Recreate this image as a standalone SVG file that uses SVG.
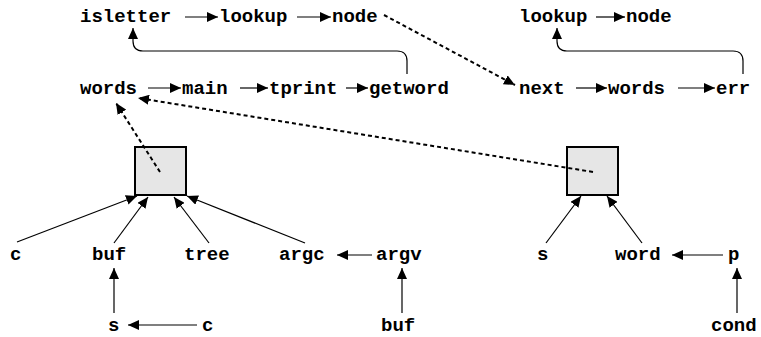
<svg xmlns="http://www.w3.org/2000/svg" width="761" height="337" viewBox="0 0 761 337">
<style>
text{font-family:"Liberation Mono","Courier New",monospace;font-weight:bold;font-size:19px;fill:#000}
.s{stroke:#000;stroke-width:1.2;fill:none}
.d{stroke:#000;stroke-width:2;fill:none;stroke-dasharray:4 3}
.box{fill:#e6e6e6;stroke:#000;stroke-width:2}
</style>
<defs>
<marker id="a" markerUnits="userSpaceOnUse" markerWidth="12" markerHeight="10" refX="11" refY="5" orient="auto"><path d="M0,0L11,5L0,10z" fill="#000"/></marker>
</defs>
<g id="box1"><rect class="box" x="135" y="147" width="51" height="48"/></g>
<g id="box2"><rect class="box" x="567" y="147" width="51" height="48"/></g>
<g id="isletter"><text x="80" y="22">isletter</text></g>
<g id="lookup1"><text x="219" y="22">lookup</text></g>
<g id="node1"><text x="332" y="22">node</text></g>
<g id="lookup2"><text x="519" y="22">lookup</text></g>
<g id="node2"><text x="626" y="22">node</text></g>
<g id="words1"><text x="80" y="94">words</text></g>
<g id="main"><text x="182" y="94">main</text></g>
<g id="tprint"><text x="269" y="94">tprint</text></g>
<g id="getword"><text x="369" y="94">getword</text></g>
<g id="next"><text x="519" y="94">next</text></g>
<g id="words2"><text x="608" y="94">words</text></g>
<g id="err"><text x="716" y="94">err</text></g>
<g id="c1"><text x="10" y="260">c</text></g>
<g id="buf1"><text x="92" y="260">buf</text></g>
<g id="tree"><text x="184" y="260">tree</text></g>
<g id="argc"><text x="279" y="260">argc</text></g>
<g id="argv"><text x="376" y="260">argv</text></g>
<g id="s1"><text x="537" y="260">s</text></g>
<g id="word"><text x="615" y="260">word</text></g>
<g id="p"><text x="728" y="260">p</text></g>
<g id="s2"><text x="108" y="331">s</text></g>
<g id="c2"><text x="202" y="331">c</text></g>
<g id="buf2"><text x="381" y="331">buf</text></g>
<g id="cond"><text x="711" y="331">cond</text></g>
<g id="connectors">
<path class="s" d="M185,17H218" marker-end="url(#a)"/>
<path class="s" d="M297,17H331" marker-end="url(#a)"/>
<path class="s" d="M596,17H625" marker-end="url(#a)"/>
<path class="s" d="M148,88H181" marker-end="url(#a)"/>
<path class="s" d="M240,88H268" marker-end="url(#a)"/>
<path class="s" d="M346,88H368" marker-end="url(#a)"/>
<path class="s" d="M576,88H607" marker-end="url(#a)"/>
<path class="s" d="M678,88H715" marker-end="url(#a)"/>
<path class="s" d="M407,74V61Q407,51 397,51H143Q133,51 133,41V28" marker-end="url(#a)"/>
<path class="s" d="M743,74V61Q743,51 733,51H567Q557,51 557,41V28" marker-end="url(#a)"/>
<path class="d" d="M384,15L515,85" marker-end="url(#a)"/>
<path class="d" d="M593,172L138,98" marker-end="url(#a)"/>
<path class="d" d="M160,172L116,103" marker-end="url(#a)"/>
<path class="s" d="M17,242L137,196" marker-end="url(#a)"/>
<path class="s" d="M114,243L148,197" marker-end="url(#a)"/>
<path class="s" d="M209,243L174,197" marker-end="url(#a)"/>
<path class="s" d="M305,243L187,196" marker-end="url(#a)"/>
<path class="s" d="M546,243L581,196" marker-end="url(#a)"/>
<path class="s" d="M642,243L607,196" marker-end="url(#a)"/>
<path class="s" d="M372,255H337" marker-end="url(#a)"/>
<path class="s" d="M723,255H672" marker-end="url(#a)"/>
<path class="s" d="M197,325H128" marker-end="url(#a)"/>
<path class="s" d="M114,313V268" marker-end="url(#a)"/>
<path class="s" d="M402,313V268" marker-end="url(#a)"/>
<path class="s" d="M737,313V268" marker-end="url(#a)"/>
</g>
</svg>
